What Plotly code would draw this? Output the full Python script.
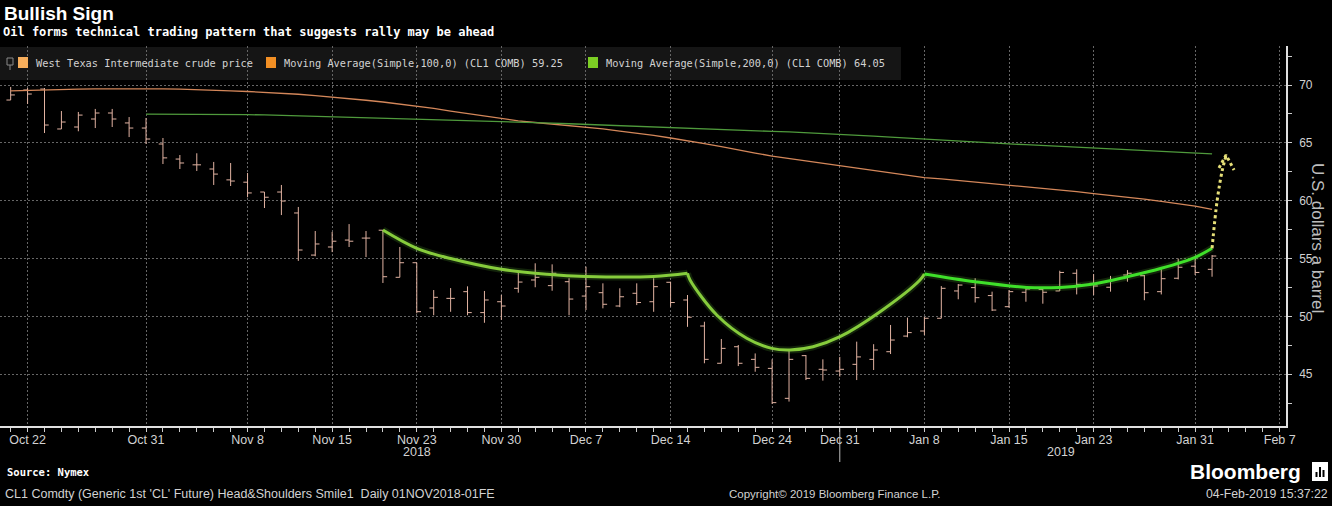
import plotly.graph_objects as go

# ---------------- data ----------------
trading_days = [
    "2018-10-19", "2018-10-22", "2018-10-23", "2018-10-24", "2018-10-25", "2018-10-26",
    "2018-10-29", "2018-10-30", "2018-10-31", "2018-11-01", "2018-11-02", "2018-11-05",
    "2018-11-06", "2018-11-07", "2018-11-08", "2018-11-09", "2018-11-12", "2018-11-13",
    "2018-11-14", "2018-11-15", "2018-11-16", "2018-11-19", "2018-11-20", "2018-11-21",
    "2018-11-23", "2018-11-26", "2018-11-27", "2018-11-28", "2018-11-29", "2018-11-30",
    "2018-12-03", "2018-12-04", "2018-12-05", "2018-12-06", "2018-12-07", "2018-12-10",
    "2018-12-11", "2018-12-12", "2018-12-13", "2018-12-14", "2018-12-17", "2018-12-18",
    "2018-12-19", "2018-12-20", "2018-12-21", "2018-12-24", "2018-12-26", "2018-12-27",
    "2018-12-28", "2018-12-31", "2019-01-02", "2019-01-03", "2019-01-04", "2019-01-07",
    "2019-01-08", "2019-01-09", "2019-01-10", "2019-01-11", "2019-01-14", "2019-01-15",
    "2019-01-16", "2019-01-17", "2019-01-18", "2019-01-22", "2019-01-23", "2019-01-24",
    "2019-01-25", "2019-01-28", "2019-01-29", "2019-01-30", "2019-01-31", "2019-02-01",
    "2019-02-04", "2019-02-05", "2019-02-06", "2019-02-07",
]

wti_open = [68.70, 69.57, 69.65, 66.20, 66.37, 67.06, 67.58, 66.72, 66.28, 64.90,
            63.60, 63.10, 62.74, 61.80, 61.60, 60.75, 60.75, 58.94, 55.30, 56.00,
            56.60, 56.77, 57.45, 53.38, 54.64, 50.73, 51.56, 52.14, 50.33, 51.27,
            52.43, 53.15, 52.66, 53.00, 51.76, 52.05, 50.90, 52.00, 51.27, 52.95,
            51.42, 49.17, 45.95, 47.38, 46.29, 45.51, 42.92, 46.61, 45.43, 45.28,
            45.86, 46.29, 46.95, 48.30, 48.74, 49.84, 52.20, 52.49, 51.80, 50.84,
            52.09, 52.34, 52.20, 53.73, 52.86, 52.52, 53.58, 53.52, 52.14, 53.30,
            54.34, 54.07]
wti_high = [69.83, 69.74, 69.74, 67.75, 67.67, 67.93, 67.93, 67.23, 67.15, 65.42,
            63.95, 64.10, 63.35, 63.26, 62.40, 60.75, 61.36, 59.46, 57.38, 57.30,
            57.98, 57.38, 57.47, 56.00, 54.64, 52.28, 52.45, 52.60, 52.20, 51.85,
            53.86, 54.59, 54.50, 53.30, 54.30, 52.86, 52.43, 52.86, 53.30, 53.00,
            51.85, 49.54, 48.05, 47.53, 46.80, 46.29, 47.03, 46.66, 46.29, 46.50,
            47.82, 47.60, 49.26, 49.90, 49.97, 52.62, 52.80, 53.30, 52.14, 52.28,
            52.52, 52.43, 53.95, 54.07, 53.66, 53.50, 54.00, 53.58, 54.07, 55.00,
            55.22, 55.30]
wti_low = [68.70, 68.36, 65.85, 66.20, 66.00, 66.28, 66.37, 65.50, 64.90, 63.17,
           62.74, 62.57, 61.36, 61.27, 60.30, 59.37, 58.76, 54.80, 55.20, 55.56,
           56.00, 55.13, 52.89, 53.38, 50.27, 50.10, 50.40, 50.10, 49.45, 49.70,
           52.05, 52.52, 52.22, 50.10, 50.55, 50.70, 50.80, 50.98, 50.40, 50.84,
           49.10, 45.95, 45.95, 45.71, 45.22, 42.43, 42.64, 44.50, 44.45, 44.80,
           44.50, 45.37, 46.75, 48.20, 48.39, 49.84, 51.48, 51.20, 50.47, 50.75,
           51.27, 51.10, 52.20, 51.90, 51.85, 52.14, 53.00, 51.40, 51.90, 53.20,
           53.58, 53.43]
wti_close = [69.14, 69.22, 66.54, 66.80, 67.40, 67.58, 67.06, 66.28, 65.33, 63.70,
             63.26, 63.10, 62.30, 61.70, 60.67, 60.30, 59.97, 55.74, 56.26, 56.50,
             56.50, 56.77, 53.43, 54.64, 50.41, 51.65, 51.56, 50.33, 51.42, 50.90,
             52.97, 53.38, 53.73, 51.50, 52.57, 51.05, 51.70, 51.20, 52.57, 51.20,
             49.93, 46.29, 47.24, 45.95, 45.60, 42.55, 46.29, 44.65, 45.37, 45.43,
             46.50, 47.10, 47.96, 48.60, 49.84, 52.43, 52.71, 51.62, 50.55, 52.14,
             52.37, 52.09, 53.80, 52.77, 52.63, 53.15, 53.73, 52.05, 53.26, 54.25,
             53.80, 55.22]

ma100 = [69.50, 69.55, 69.60, 69.62, 69.65, 69.67, 69.68, 69.69, 69.69, 69.67,
         69.65, 69.62, 69.57, 69.50, 69.44, 69.38, 69.31, 69.20, 69.08, 68.96,
         68.82, 68.68, 68.53, 68.36, 68.18, 67.97, 67.75, 67.54, 67.32, 67.06,
         66.90, 66.76, 66.63, 66.49, 66.37, 66.20, 66.02, 65.85, 65.64, 65.42,
         65.20, 64.94, 64.68, 64.38, 64.12, 63.86, 63.65, 63.43, 63.21, 63.00,
         62.78, 62.57, 62.37, 62.18, 62.00, 61.88, 61.75, 61.62, 61.49, 61.36,
         61.23, 61.10, 60.94, 60.79, 60.62, 60.47, 60.30, 60.13, 59.95, 59.76,
         59.54, 59.25]
ma200_start = "2018-10-31"
ma200 = [67.49, 67.49, 67.48, 67.47, 67.46, 67.45, 67.44, 67.41, 67.37, 67.33,
         67.29, 67.25, 67.21, 67.17, 67.12, 67.07, 67.04, 67.01, 66.98, 66.95,
         66.92, 66.89, 66.83, 66.77, 66.71, 66.65, 66.59, 66.53, 66.47, 66.41,
         66.35, 66.29, 66.24, 66.19, 66.14, 66.09, 66.04, 65.99, 65.94, 65.88,
         65.82, 65.76, 65.67, 65.58, 65.49, 65.40, 65.31, 65.23, 65.15, 65.07,
         64.99, 64.91, 64.84, 64.77, 64.70, 64.63, 64.56, 64.49, 64.42, 64.35,
         64.27, 64.19, 64.12, 64.05]

# drawn pattern (trading-day position, price)
left_shoulder_x = [22.0, 24.0, 26.0, 29.0, 31.7, 34.0, 38.0, 40.0]
left_shoulder_y = [57.47, 55.89, 55.00, 54.07, 53.64, 53.45, 53.45, 53.73]
head_x = [40.0, 40.15, 41.73, 43.5, 44.98, 46.06, 47.42, 49.01, 51.38, 53.74, 54.0]
head_y = [53.73, 53.15, 50.12, 48.11, 47.24, 47.10, 47.38, 48.25, 50.41, 53.15, 53.67]
right_shoulder_x = [54.0, 57.0, 60.05, 62.0, 64.0, 66.0, 68.0, 70.0, 71.0]
right_shoulder_y = [53.67, 53.00, 52.51, 52.51, 52.80, 53.43, 54.16, 55.11, 55.89]
arrow_x = [71.0, 71.3, 71.6, 71.83]
arrow_y = [55.89, 60.0, 62.6, 63.9]
arrowhead_x = [71.41, 71.83, 72.3]
arrowhead_y = [62.83, 63.95, 62.65]

tick_dates = ["2018-10-22", "2018-10-31", "2018-11-08", "2018-11-15", "2018-11-23",
              "2018-11-30", "2018-12-07", "2018-12-14", "2018-12-24", "2018-12-31",
              "2019-01-08", "2019-01-15", "2019-01-23", "2019-01-31", "2019-02-07"]
tick_labels = ["Oct 22", "Oct 31", "Nov 8", "Nov 15", "Nov 23", "Nov 30", "Dec 7",
               "Dec 14", "Dec 24", "Dec 31", "Jan 8", "Jan 15", "Jan 23", "Jan 31", "Feb 7"]
y_ticks = [45, 50, 55, 60, 65, 70]

# ---------------- geometry helpers ----------------
W, H = 1332, 506
PL, PR, PT, PB = 0, 1286, 46, 426
pos = {d: i for i, d in enumerate(trading_days)}
x_price = [pos[d] for d in trading_days[:len(wti_open)]]
x_ma200 = list(range(pos[ma200_start], pos[ma200_start] + len(ma200)))
x_range = [-0.63, 75.37]
y_range = [40.53, 73.37]


def px(x):
    return (x - PL) / (PR - PL)


def py(y):
    return (PB - y) / (PB - PT)


BAR = "#e2b3a2"
TXT = "#d2d2d2"
GRID = "#666666"
SANS = "Liberation Sans, Arial, sans-serif"
MONO = "DejaVu Sans Mono, monospace"

fig = go.Figure()

fig.add_trace(go.Ohlc(
    x=x_price, open=wti_open, high=wti_high, low=wti_low, close=wti_close,
    increasing=dict(line=dict(color=BAR, width=1)),
    decreasing=dict(line=dict(color=BAR, width=1)),
    tickwidth=0.25, hoverinfo="skip", showlegend=False,
))
fig.add_trace(go.Scatter(x=x_price, y=ma100, mode="lines",
                         line=dict(color="#d4875a", width=1.3), hoverinfo="skip", showlegend=False))
fig.add_trace(go.Scatter(x=x_ma200, y=ma200, mode="lines",
                         line=dict(color="#4f9a3c", width=1.3), hoverinfo="skip", showlegend=False))

# pattern curves with glow
for cx, cy, col in [(left_shoulder_x, left_shoulder_y, "#86cc3c"),
                    (head_x, head_y, "#86cc3c"),
                    (right_shoulder_x, right_shoulder_y, "#3fe02a")]:
    fig.add_trace(go.Scatter(x=cx, y=cy, mode="lines",
                             line=dict(color="rgba(110,220,60,0.16)", width=7, shape="spline"),
                             hoverinfo="skip", showlegend=False))
    fig.add_trace(go.Scatter(x=cx, y=cy, mode="lines",
                             line=dict(color=col, width=3, shape="spline"),
                             hoverinfo="skip", showlegend=False))

fig.add_trace(go.Scatter(x=arrow_x, y=arrow_y, mode="lines",
                         line=dict(color="#e6df78", width=3, dash="dot", shape="spline"),
                         hoverinfo="skip", showlegend=False, cliponaxis=False))
fig.add_trace(go.Scatter(x=arrowhead_x, y=arrowhead_y, mode="lines",
                         line=dict(color="#e6df78", width=3, dash="dot"),
                         hoverinfo="skip", showlegend=False, cliponaxis=False))

# right axis triangle tick markers
fig.add_trace(go.Scatter(x=[x_range[1] + 0.22] * len(y_ticks), y=y_ticks, mode="markers",
                         marker=dict(symbol="triangle-right", size=8, color="#e0e0e0"),
                         hoverinfo="skip", showlegend=False, cliponaxis=False))

fig.update_layout(
    width=W, height=H,
    margin=dict(l=PL, r=W - PR, t=PT, b=H - PB),
    paper_bgcolor="#000000", plot_bgcolor="rgba(0,0,0,0)",
    showlegend=False,
    xaxis=dict(
        range=x_range, tickmode="array",
        tickvals=[pos[d] for d in tick_dates], ticktext=tick_labels,
        ticks="outside", ticklen=4, tickcolor="#cccccc", ticklabelstandoff=-3,
        showgrid=True, gridcolor=GRID, griddash="2px,2px", gridwidth=1,
        showline=True, linecolor="#e0e0e0", linewidth=1.5,
        zeroline=False, rangeslider=dict(visible=False),
        tickfont=dict(family=SANS, size=12.5, color=TXT),
        minor=dict(tick0=0, dtick=1, ticks="outside", ticklen=4, tickcolor="#cccccc", showgrid=False),
    ),
    yaxis=dict(
        range=y_range, side="right", tickmode="array", tickvals=y_ticks,
        ticks="outside", ticklen=9, tickcolor="rgba(0,0,0,0)",
        showgrid=True, gridcolor=GRID, griddash="2px,2px", gridwidth=1,
        showline=True, linecolor="#e0e0e0", linewidth=1.5, zeroline=False,
        tickfont=dict(family=SANS, size=12, color=TXT),
        minor=dict(tick0=0, dtick=2.5, ticks="outside", ticklen=4, tickcolor="#cccccc", showgrid=False),
    ),
)

shapes = [
    # legend band
    dict(type="rect", xref="paper", yref="paper", x0=px(0), x1=px(901), y0=py(80), y1=py(47),
         fillcolor="#151515", line=dict(width=0), layer="below"),
    # legend icons
    dict(type="rect", xref="paper", yref="paper", x0=px(7), x1=px(13), y0=py(65), y1=py(58),
         fillcolor="rgba(0,0,0,0)", line=dict(color="#8a8a8a", width=1)),
    dict(type="line", xref="paper", yref="paper", x0=px(10), x1=px(10), y0=py(70), y1=py(65),
         line=dict(color="#8a8a8a", width=1)),
    dict(type="rect", xref="paper", yref="paper", x0=px(18), x1=px(28), y0=py(68), y1=py(57),
         fillcolor="#f7ae5c", line=dict(width=0)),
    dict(type="rect", xref="paper", yref="paper", x0=px(266), x1=px(276), y0=py(68), y1=py(57),
         fillcolor="#f28f24", line=dict(width=0)),
    dict(type="rect", xref="paper", yref="paper", x0=px(588), x1=px(598), y0=py(68), y1=py(57),
         fillcolor="#7cce24", line=dict(width=0)),
    # year separator
    dict(type="line", xref="x", yref="paper", x0=pos["2018-12-31"], x1=pos["2018-12-31"],
         y0=py(428), y1=py(462), line=dict(color="#bdbdbd", width=1)),
    # Bloomberg icon
    dict(type="rect", xref="paper", yref="paper", x0=px(1312), x1=px(1328), y0=py(481), y1=py(462),
         fillcolor="#ffffff", line=dict(width=0)),
    dict(type="rect", xref="paper", yref="paper", x0=px(1315.5), x1=px(1317.5), y0=py(477), y1=py(472),
         fillcolor="#000000", line=dict(width=0)),
    dict(type="rect", xref="paper", yref="paper", x0=px(1319), x1=px(1321), y0=py(477), y1=py(467),
         fillcolor="#000000", line=dict(width=0)),
    dict(type="rect", xref="paper", yref="paper", x0=px(1322.5), x1=px(1324.5), y0=py(477), y1=py(470),
         fillcolor="#000000", line=dict(width=0)),
]
fig.update_layout(shapes=shapes)


def ann(text, x, y, xanchor="left", size=12, family=MONO, color=TXT, angle=0, xref="paper"):
    fig.add_annotation(text=text, x=x if xref != "paper" else px(x), y=py(y),
                       xref=xref, yref="paper", xanchor=xanchor, yanchor="middle",
                       showarrow=False, textangle=angle,
                       font=dict(family=family, size=size, color=color))


ann("<b>Bullish Sign</b>", 2, 14, size=19, family=SANS, color="#ffffff")
ann("<b>Oil forms technical trading pattern that suggests rally may be ahead</b>", 1, 32, size=12,
    color="#ffffff")
ann("West Texas Intermediate crude price", 34, 63, size=10.3)
ann("Moving Average(Simple,100,0) (CL1 COMB) 59.25", 282, 63, size=10.3)
ann("Moving Average(Simple,200,0) (CL1 COMB) 64.05", 604, 63, size=10.3)
ann("U.S. dollars a barrel", 1318, 238, xanchor="center", size=17,
    family=SANS, color="#bdbdbd", angle=90)
ann("2018", pos["2018-11-23"], 452, xanchor="center", size=12.5, family=SANS, xref="x")
ann("2019", 62.1, 452, xanchor="center", size=12.5, family=SANS, xref="x")
ann("<b>Source: Nymex</b>", 5, 472, size=10.5, color="#ffffff")
ann("<b>Bloomberg</b>", 1303, 471, xanchor="right", size=21, family=SANS, color="#ffffff")
ann("CL1 Comdty (Generic 1st 'CL' Future) Head&Shoulders Smile1  Daily 01NOV2018-01FE", 3, 494,
    size=12.5, family=SANS)
ann("Copyright\u00a9 2019 Bloomberg Finance L.P.", 835, 494, xanchor="center", size=11.5, family=SANS)
ann("04-Feb-2019 15:37:22", 1330, 494, xanchor="right", size=12.3, family=SANS)

fig.write_html("out.html", config={"displayModeBar": False},
               post_script="document.body.style.margin='0px';")
